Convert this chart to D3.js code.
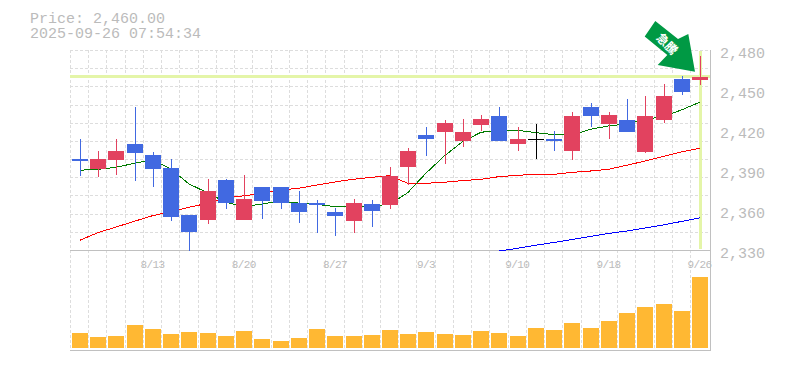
<!DOCTYPE html>
<html>
<head>
<meta charset="utf-8">
<script src="https://cdn.jsdelivr.net/npm/d3@7"></script>
<style>
  html, body { margin: 0; padding: 0; background: #fff; }
  svg { display: block; }
  text { font-family: "Liberation Mono", monospace; fill: #bbb; }
  .grid line { stroke: #ddd; stroke-dasharray: 3,2; shape-rendering: crispEdges; }
  .axis path, .axis line { display: none; }
  .border { stroke: #c0c0c0; stroke-width: 1; shape-rendering: crispEdges; }
  .ma { fill: none; stroke-width: 1; shape-rendering: crispEdges; }
</style>
</head>
<body>
<div id="chart"></div>
<script>
// Trading days
const dates = ['8/6','8/7','8/8','8/12','8/13','8/14','8/15','8/18','8/19','8/20','8/21','8/22','8/25','8/26','8/27','8/28','8/29',
  '9/1','9/2','9/3','9/4','9/5','9/8','9/9','9/10','9/11','9/12','9/16','9/17','9/18','9/19','9/22','9/24','9/25','9/26']
const dateLabels = ['8/13','8/20','8/27','9/3','9/10','9/18','9/26']
const priceLabels = [2480, 2450, 2420, 2390, 2360, 2330]

const opens  = [2399,2391,2398,2410,2402,2392,2357,2353,2383,2353,2378,2378,2366,2366,2359,2352,2365,2364,2393,2417,2419,2412,2424,2431,2410,2414,2414,2405,2438,2425,2428,2404,2428,2459,2458]
const closes = [2397,2399,2405,2403,2391,2355,2344,2375,2366,2369,2367,2366,2359,2364,2356,2366,2360,2386,2405,2414,2426,2419,2429,2412,2414,2414,2412,2431,2431,2432,2419,2431,2446,2449,2460]
const highs  = [2414,2405,2414,2438,2404,2399,2357,2384,2384,2387,2378,2378,2375,2368,2362,2369,2368,2393,2407,2423,2428,2429,2432,2438,2423,2425,2420,2434,2441,2434,2444,2446,2455,2461,2476]
const lows   = [2386,2385,2387,2382,2378,2352,2330,2350,2361,2353,2354,2361,2351,2343,2341,2343,2348,2361,2379,2401,2395,2408,2420,2412,2405,2399,2405,2398,2423,2414,2419,2403,2426,2447,2454]

const maShort = [2390.2,2390.9,2392.4,2395.4,2397.9,2391.1,2379.9,2373.4,2366.2,2362.9,2364.9,2367.1,2365.6,2364.6,2362.9,2362.6,2363.4,2364.6,2373.4,2388.1,2400.9,2411.6,2418.6,2420.4,2420.2,2418.4,2416.9,2416.6,2420.9,2423.4,2424.9,2428.4,2430.4,2435.4,2441.2]
const maMid = [2337.6,2343.4,2347.6,2351.9,2356.1,2359.1,2362.4,2365.4,2369.2,2371.1,2372.6,2375.4,2376.6,2379.1,2381.4,2383.4,2384.9,2386.1,2380.4,2380.4,2381.2,2382.4,2383.4,2385.4,2386.4,2387.1,2387.1,2388.6,2389.6,2390.9,2393.9,2397.1,2400.6,2403.9,2406.6]
// Long average only comes into range near the end
const maLong = [null,null,null,null,null,null,null,null,null,null,null,null,null,null,null,null,null,null,null,null,null,null,null,
  2329.6,2331.6,2333.9,2336,2338.2,2340.5,2342.8,2344.6,2346.9,2349.1,2351.8,2354.4]

const volumes = [15,11,12,23,19,14,16,15,12,17,9,7,10,19,12,12,13,18,14,16,14,13,17,15,12,20,18,25,20,27,35,41,44,37,71]

const lastPrice = 2460
const priceTitle = 'Price: 2,460.00'
const timeTitle = '2025-09-26 07:54:34'
const signalText = '急騰'

const drawChart = () => {
  const width = 785
  const height = 370
  const left = 70.5
  const right = 710
  const bodyWidth = 16

  const svg = d3.select('#chart')
    .append('svg')
    .attr('width', width)
    .attr('height', height)

  const x = d3.scaleBand().domain(dates).range([left, 708.73])
  const y = d3.scaleLinear().domain([2330, 2480]).range([250.5, 50.5])
  const yVol = d3.scaleLinear().domain([0, 98]).range([348, 250])

  const bodyX = d => Math.floor(x(d)) + 2
  const wickX = d => bodyX(d) + bodyWidth / 2 + 0.5

  //=======================================================

  // Vertical gridlines
  const grid = svg.append('g').attr('class', 'grid')
  grid.selectAll('.gx')
    .data(dates)
    .join('line')
    .attr('class', 'gx')
    .attr('x1', d => Math.floor(x(d)) + 0.5)
    .attr('x2', d => Math.floor(x(d)) + 0.5)
    .attr('y1', 50)
    .attr('y2', 350)

  // Horizontal gridlines, 11 divisions
  grid.selectAll('.gy')
    .data(d3.range(11).map(i => 2480 - i * 150 / 11))
    .join('line')
    .attr('class', 'gy')
    .attr('x1', 70)
    .attr('x2', right)
    .attr('y1', d => Math.floor(y(d)) + 0.5)
    .attr('y2', d => Math.floor(y(d)) + 0.5)

  // Frame
  svg.append('line').attr('class', 'border').attr('x1', 70).attr('x2', right + 1).attr('y1', 250.5).attr('y2', 250.5)
  svg.append('line').attr('class', 'border').attr('x1', 70).attr('x2', right + 1).attr('y1', 350.5).attr('y2', 350.5)
  svg.append('line').attr('class', 'border').attr('x1', right + 0.5).attr('x2', right + 0.5).attr('y1', 50).attr('y2', 351)

  // Last price and last day highlights
  svg.append('line')
    .attr('x1', 70).attr('x2', right)
    .attr('y1', Math.floor(y(lastPrice)) - 0.5).attr('y2', Math.floor(y(lastPrice)) - 0.5)
    .attr('stroke', '#e4f5a8').attr('stroke-width', 3)
    .attr('shape-rendering', 'crispEdges')
  svg.append('line')
    .attr('x1', wickX('9/26')).attr('x2', wickX('9/26'))
    .attr('y1', 51).attr('y2', 249)
    .attr('stroke', '#e4f5a8').attr('stroke-width', 3)
    .attr('shape-rendering', 'crispEdges')

  // Moving averages
  const line = d3.line()
    .defined(d => d !== null)
    .x((d, i) => x(dates[i]) + x.bandwidth() / 2)
    .y(d => y(d))
  svg.append('path').attr('class', 'ma').attr('stroke', '#f00').attr('d', line(maMid))
  svg.append('path').attr('class', 'ma').attr('stroke', '#00f').attr('d', line(maLong))
  svg.append('path').attr('class', 'ma').attr('stroke', '#007a00').attr('d', line(maShort))

  // Candles
  const candleColor = (i) => {
    if (opens[i] === closes[i]) return '#000'
    return closes[i] > opens[i] ? '#e2425f' : '#4169e1'
  }

  const candles = svg.append('g').attr('shape-rendering', 'crispEdges')
  candles.selectAll('.wick')
    .data(dates)
    .join('line')
    .attr('class', 'wick')
    .attr('x1', d => wickX(d))
    .attr('x2', d => wickX(d))
    .attr('y1', (d, i) => y(highs[i]))
    .attr('y2', (d, i) => y(lows[i]))
    .attr('stroke', (d, i) => candleColor(i))

  candles.selectAll('.body')
    .data(dates)
    .join('rect')
    .attr('class', 'body')
    .attr('x', d => bodyX(d))
    .attr('y', (d, i) => y(Math.max(opens[i], closes[i])))
    .attr('width', bodyWidth)
    .attr('height', (d, i) => Math.max(1, Math.abs(y(opens[i]) - y(closes[i]))))
    .attr('fill', (d, i) => candleColor(i))

  // Volume
  svg.append('g')
    .attr('shape-rendering', 'crispEdges')
    .selectAll('rect')
    .data(dates)
    .join('rect')
    .attr('x', d => bodyX(d))
    .attr('y', (d, i) => yVol(volumes[i]))
    .attr('width', bodyWidth)
    .attr('height', (d, i) => yVol(0) - yVol(volumes[i]))
    .attr('fill', '#ffb833')

  // Axes
  svg.append('g')
    .attr('class', 'axis')
    .attr('transform', 'translate(0, 250)')
    .call(d3.axisBottom(x).tickValues(dateLabels).tickSize(0).tickPadding(10))
    .call(g => g.selectAll('text')
      .style('font-family', '"Liberation Mono", monospace')
      .style('font-size', '11px')
      .style('letter-spacing', '-0.6px')
      .style('fill', '#bbb'))

  svg.append('g')
    .attr('class', 'axis')
    .attr('transform', 'translate(720, 0)')
    .call(d3.axisRight(y).tickValues(priceLabels).tickFormat(d3.format(',')).tickSize(0).tickPadding(0))
    .call(g => g.selectAll('text')
      .attr('dy', '0.45em')
      .style('font-family', '"Liberation Mono", monospace')
      .style('font-size', '15px')
      .style('fill', '#bbb'))

  // Titles
  svg.append('text').attr('x', 30).attr('y', 23).style('font-size', '15px').text(priceTitle)
  svg.append('text').attr('x', 30).attr('y', 38).style('font-size', '15px').text(timeTitle)

  // Signal arrow
  svg.append('path')
    .attr('d', 'M655.3,21 L644.7,36.5 L667.3,55 L657.7,65 L695,71.7 L688.3,34 L678,39 Z')
    .attr('fill', '#009944')
  svg.append('text')
    .attr('transform', 'translate(667, 44) rotate(45)')
    .attr('text-anchor', 'middle')
    .attr('dy', '0.35em')
    .style('font-family', '"Noto Sans CJK JP", sans-serif')
    .style('font-size', '12px')
    .style('font-weight', 'bold')
    .style('fill', '#fff')
    .text(signalText)
}

drawChart()
</script>
</body>
</html>
